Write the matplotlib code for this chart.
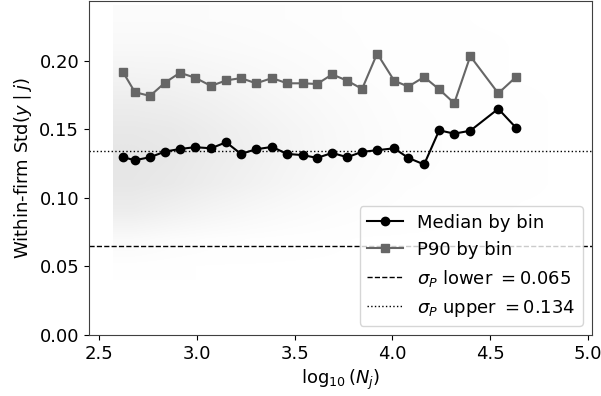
import numpy as np
import matplotlib
matplotlib.use('Agg')
import matplotlib.pyplot as plt
from matplotlib.colors import LinearSegmentedColormap

# binned statistics
bin_x = [2.623, 2.684, 2.761, 2.838, 2.914, 2.991, 3.073, 3.150, 3.226, 3.303,
         3.385, 3.462, 3.543, 3.615, 3.692, 3.769, 3.845, 3.922, 4.009, 4.081,
         4.162, 4.239, 4.316, 4.398, 4.541, 4.633]
median_y = [0.1297, 0.1275, 0.1297, 0.1338, 0.1357, 0.1370, 0.1362, 0.1406, 0.1321, 0.1355,
            0.1372, 0.1321, 0.1312, 0.1292, 0.1328, 0.1297, 0.1336, 0.1348, 0.1362, 0.1292,
            0.1244, 0.1493, 0.1469, 0.1490, 0.1650, 0.1510]
p90_y = [0.1918, 0.1771, 0.1744, 0.1841, 0.1913, 0.1877, 0.1817, 0.1857, 0.1874, 0.1836,
         0.1874, 0.1836, 0.1836, 0.1831, 0.1901, 0.1855, 0.1795, 0.2053, 0.1855, 0.1812,
         0.1882, 0.1792, 0.1691, 0.2034, 0.1763, 0.1884]

sigma_lower = 0.065
sigma_upper = 0.134

# rough density of the firm-level cloud behind the lines (estimated by eye)
# rows: y from 0.05 (bottom) to 0.23 (top), cols: log10(N) from 2.66 to 4.86
cloud_density = [
    [0.02, 0.01, 0.00, 0.00, 0.00, 0.00, 0.00, 0.00, 0.00, 0.00, 0.00, 0.00],
    [0.20, 0.12, 0.07, 0.04, 0.02, 0.01, 0.00, 0.00, 0.00, 0.00, 0.00, 0.00],
    [0.70, 0.55, 0.40, 0.28, 0.18, 0.10, 0.05, 0.02, 0.01, 0.01, 0.00, 0.00],
    [0.95, 0.85, 0.68, 0.52, 0.36, 0.22, 0.12, 0.05, 0.03, 0.02, 0.01, 0.00],
    [1.00, 0.92, 0.75, 0.60, 0.42, 0.28, 0.16, 0.07, 0.04, 0.02, 0.01, 0.00],
    [0.90, 0.85, 0.70, 0.55, 0.40, 0.26, 0.15, 0.07, 0.04, 0.02, 0.01, 0.00],
    [0.70, 0.65, 0.55, 0.42, 0.30, 0.20, 0.12, 0.05, 0.03, 0.02, 0.01, 0.00],
    [0.45, 0.42, 0.35, 0.28, 0.20, 0.13, 0.07, 0.03, 0.02, 0.01, 0.00, 0.00],
    [0.25, 0.25, 0.20, 0.16, 0.12, 0.08, 0.04, 0.02, 0.01, 0.01, 0.00, 0.00],
    [0.15, 0.15, 0.12, 0.10, 0.08, 0.05, 0.03, 0.01, 0.01, 0.00, 0.00, 0.00],
]

plt.rcParams['font.size'] = 13

fig = plt.figure(figsize=(6.01, 3.96), dpi=100)
ax = fig.add_axes([0.148, 0.154, 0.837, 0.843])

cloud_cmap = LinearSegmentedColormap.from_list('cloud', ['white', '#e6e6e6'])
ax.imshow(np.array(cloud_density), origin='lower', extent=(2.57, 4.97, 0.04, 0.24),
          aspect='auto', cmap=cloud_cmap, vmin=0, vmax=1,
          interpolation='bilinear', zorder=0)

ax.plot(bin_x, median_y, '-o', color='black', lw=1.5, ms=6, label='Median by bin', zorder=3)
ax.plot(bin_x, p90_y, '-s', color='#666666', lw=1.5, ms=6, label='P90 by bin', zorder=3)
ax.axhline(sigma_lower, color='black', ls='--', lw=1,
           label=r'$\sigma_P$ lower $= %.3f$' % sigma_lower, zorder=2)
ax.axhline(sigma_upper, color='black', ls=':', lw=1,
           label=r'$\sigma_P$ upper $= %.3f$' % sigma_upper, zorder=2)

ax.set_xlim(2.449, 5.02)
ax.set_ylim(0, 0.2435)
ax.set_xticks([2.5, 3.0, 3.5, 4.0, 4.5, 5.0])
ax.set_yticks([0.0, 0.05, 0.10, 0.15, 0.20])
ax.set_xlabel(r'$\log_{10}(N_j)$')
ax.set_ylabel(r'Within-firm Std$(y\mid j)$')
for s in ax.spines.values():
    s.set_color('0.25')

ax.legend(loc='lower right')

fig.savefig('out.png', dpi=100)
